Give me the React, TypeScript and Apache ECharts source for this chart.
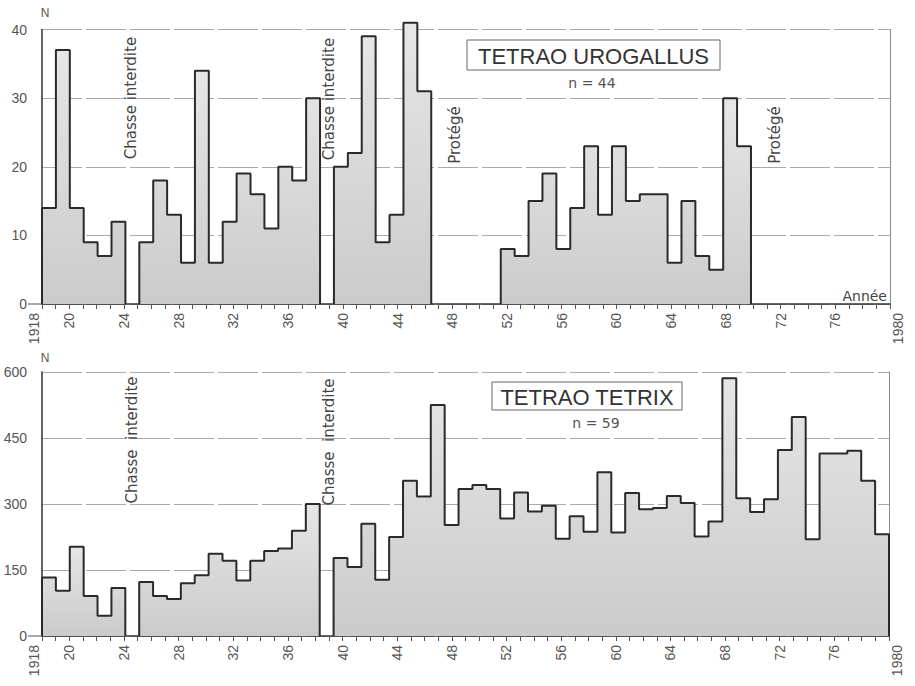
import React, { useEffect, useRef } from "react";
import * as echarts from "echarts";

const START_YEAR = 1918;
const AXIS_START = 1918;
const AXIS_END = 1980;
const BAR_AXIS_END = 1979;

// Tetrao urogallus, yearly N from 1918 (null = no data)
const urogallus: (number | null)[] = [
  14, 37, 14, 9, 7, 12,
  null,
  9, 18, 13, 6, 34, 6, 12, 19, 16, 11, 20, 18, 30,
  null,
  20, 22, 39, 9, 13, 41, 31,
  null, null, null, null, null,
  8, 7, 15, 19, 8, 14, 23, 13, 23, 15, 16, 16, 6, 15, 7, 5, 30, 23,
];

// Tetrao tetrix, yearly N from 1918 (null = no data)
const tetrix: (number | null)[] = [
  133, 103, 203, 91, 46, 109,
  null,
  123, 91, 84, 120, 138, 187, 171, 126, 171, 193, 199, 239, 300,
  null,
  177, 157, 255, 128, 225, 353, 317, 525, 252, 334, 343, 334, 267, 326, 283, 296, 221, 272, 237, 372,
  235, 325, 288, 291, 318, 302, 226, 260, 586, 313, 282, 311, 423, 498, 220, 415, 415, 421, 353, 231,
];

const yTop = { min: 0, max: 40, interval: 10 };
const yBottom = { min: 0, max: 600, interval: 150 };

const FONT = "Liberation Sans";
const WIDE_FONT = "DejaVu Sans";

function segments(values: (number | null)[], start: number): number[][][] {
  const segs: { start: number; vals: number[] }[] = [];
  let cur: { start: number; vals: number[] } | null = null;
  values.forEach((v, i) => {
    const yr = start + i;
    if (v == null) {
      if (cur) {
        segs.push(cur);
        cur = null;
      }
      return;
    }
    if (!cur) cur = { start: yr, vals: [] };
    cur.vals.push(v);
  });
  if (cur) segs.push(cur);
  return segs.map((s) => {
    const pts: number[][] = [[s.start, 0]];
    s.vals.forEach((v, i) => pts.push([s.start + i, v]));
    pts.push([s.start + s.vals.length, 0]);
    return pts;
  });
}

const fill = new echarts.graphic.LinearGradient(0, 0, 0, 1, [
  { offset: 0, color: "#e6e6e6" },
  { offset: 1, color: "#cbcbcb" },
]);

function stepSeries(values: (number | null)[], xIdx: number, yIdx: number) {
  return segments(values, START_YEAR).map((pts) => ({
    type: "line",
    step: "end",
    xAxisIndex: xIdx,
    yAxisIndex: yIdx,
    data: pts,
    symbol: "none",
    silent: true,
    clip: false,
    z: 3,
    lineStyle: { color: "#2a2a2a", width: 2 },
    areaStyle: { color: fill, opacity: 1 },
  }));
}

function labelAxis(grid: number) {
  return {
    type: "value",
    gridIndex: grid,
    min: AXIS_START,
    max: AXIS_END,
    interval: 1,
    axisLine: { show: true, onZero: false, lineStyle: { color: "#333", width: 1.5 } },
    axisTick: { show: true, length: 5, lineStyle: { color: "#555", width: 1 } },
    splitLine: { show: false },
    axisLabel: {
      interval: 0,
      rotate: 90,
      margin: 9,
      color: "#555",
      fontSize: 14,
      fontFamily: FONT,
      formatter: (v: number) => {
        if (v === AXIS_START) return "{l|" + v + "}";
        if (v === AXIS_END) return "{r|" + v + "}";
        if ((v - 1920) % 4 === 0) return String(v).slice(2);
        return "";
      },
      rich: {
        l: { padding: [0, 0, 16, 0], color: "#555", fontSize: 14, fontFamily: FONT },
        r: { padding: [16, 0, 0, 0], color: "#555", fontSize: 14, fontFamily: FONT },
      },
    },
  };
}

function barAxis(grid: number) {
  return {
    type: "value",
    gridIndex: grid,
    min: AXIS_START,
    max: BAR_AXIS_END,
    show: false,
  };
}

function valueAxis(grid: number, s: { min: number; max: number; interval: number }) {
  return {
    type: "value",
    gridIndex: grid,
    min: s.min,
    max: s.max,
    interval: s.interval,
    axisLine: { show: true, lineStyle: { color: "#333", width: 1.5 } },
    axisTick: { show: false },
    axisLabel: { color: "#555", fontSize: 14, fontFamily: FONT, margin: 15 },
    splitLine: { show: true, lineStyle: { color: "#aaaaaa", width: 1, type: [40, 4] } },
  };
}

function borderAxis(grid: number, s: { min: number; max: number; interval: number }) {
  return {
    type: "value",
    gridIndex: grid,
    position: "right",
    min: s.min,
    max: s.max,
    interval: s.interval,
    axisLine: { show: true, lineStyle: { color: "#8a8a8a", width: 1 } },
    axisTick: { show: false },
    axisLabel: { show: false },
    splitLine: { show: false },
  };
}

function vtext(text: string, x: number, y: number, size = 15) {
  return {
    type: "text",
    x,
    y,
    rotation: Math.PI / 2,
    z: 10,
    style: {
      text,
      fill: "#444",
      fontSize: size,
      fontFamily: WIDE_FONT,
      align: "center",
      verticalAlign: "middle",
    },
  };
}

function htext(text: string, x: number, y: number, size: number, align = "center", color = "#444", family = FONT) {
  return {
    type: "text",
    x,
    y,
    z: 10,
    style: {
      text,
      fill: color,
      fontSize: size,
      fontFamily: family,
      align,
      verticalAlign: "middle",
    },
  };
}

function titleBox(text: string, x: number, y: number, w: number, h: number) {
  return [
    {
      type: "rect",
      z: 10,
      shape: { x, y, width: w, height: h },
      style: { fill: "#fff", stroke: "#666", lineWidth: 1 },
    },
    htext(text, x + w / 2, y + h / 2 + 1, 22, "center", "#333"),
  ];
}

export default function App() {
  const ref = useRef<HTMLDivElement>(null);
  useEffect(() => {
    if (!ref.current) return;
    const chart = echarts.init(ref.current, undefined, { renderer: "svg" });
    chart.setOption({
      animation: false,
      backgroundColor: "#ffffff",
      grid: [
        { left: 42, top: 29.5, width: 848, height: 274.5 },
        { left: 42, top: 372, width: 847, height: 264 },
      ],
      xAxis: [labelAxis(0), barAxis(0), labelAxis(1), barAxis(1)],
      yAxis: [valueAxis(0, yTop), borderAxis(0, yTop), valueAxis(1, yBottom), borderAxis(1, yBottom)],
      series: [...stepSeries(urogallus, 1, 0), ...stepSeries(tetrix, 3, 2)],
    });

    const p0 = chart.convertToPixel({ xAxisIndex: 0, yAxisIndex: 0 }, [AXIS_START, 0]) as number[];
    const p1 = chart.convertToPixel({ xAxisIndex: 2, yAxisIndex: 2 }, [AXIS_START, 0]) as number[];
    const t0 = chart.convertToPixel({ xAxisIndex: 0, yAxisIndex: 0 }, [AXIS_START, yTop.max]) as number[];
    const t1 = chart.convertToPixel({ xAxisIndex: 2, yAxisIndex: 2 }, [AXIS_START, yBottom.max]) as number[];

    chart.setOption({
      graphic: [
        { type: "line", z: 10, shape: { x1: p0[0] - 14, y1: p0[1], x2: p0[0], y2: p0[1] }, style: { stroke: "#555", lineWidth: 1 } },
        { type: "line", z: 10, shape: { x1: p1[0] - 14, y1: p1[1], x2: p1[0], y2: p1[1] }, style: { stroke: "#555", lineWidth: 1 } },
        htext("N", t0[0] + 3, t0[1] - 17, 12, "center", "#555"),
        htext("N", t1[0] + 3, t1[1] - 14, 12, "center", "#555"),
        vtext("Chasse interdite", 131, 98),
        vtext("Chasse interdite", 329, 99),
        vtext("Protégé", 455, 135),
        vtext("Protégé", 775, 135),
        vtext("Chasse  interdite", 132, 440),
        vtext("Chasse  interdite", 329, 442),
        htext("Année", 887, 296, 14, "right", "#444", WIDE_FONT),
        ...titleBox("TETRAO UROGALLUS", 467, 40, 253, 30),
        htext("n = 44", 592, 83, 14, "center", "#555", WIDE_FONT),
        ...titleBox("TETRAO TETRIX", 492, 382, 190, 28),
        htext("n = 59", 596, 423, 14, "center", "#555", WIDE_FONT),
      ],
    });

    return () => chart.dispose();
  }, []);
  return (
    <div
      ref={ref}
      style={{ position: "absolute", left: 0, top: 0, width: 915, height: 686 }}
    />
  );
}
